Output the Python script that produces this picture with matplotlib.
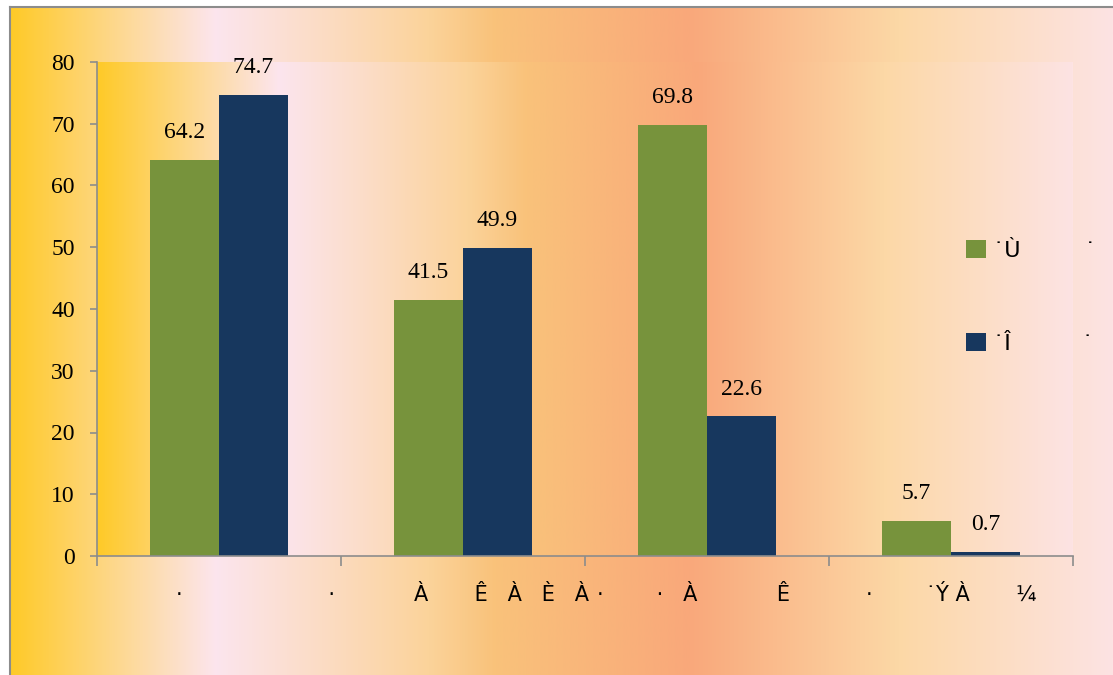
import numpy as np
import matplotlib
matplotlib.use("Agg")
from matplotlib import pyplot as plt
from matplotlib.colors import to_rgb

categories = ["·" + " " * 22 + "·",
              "À" + " " * 7 + "Ê   À   È   À",
              "·" + " " * 8 + "·   À" + " " * 12 + "Ê",
              "·" + " " * 8 + "˙Ý À" + " " * 7 + "¼"]
label_start = [-0.176, -0.20, -0.45, -0.35]   # left edge of each label, relative to its category
series1 = [64.2, 41.5, 69.8, 5.7]
series2 = [74.7, 49.9, 22.6, 0.7]
legend_names = ["˙Ù" + " " * 9 + "˙", "˙Î" + " " * 10 + "˙"]

green = "#77933C"
navy = "#17375E"

# gradient used behind the chart and again behind the plot area
stops = [0.0, 0.186, 0.38, 0.44, 0.617, 0.807, 1.0]
stop_cols = ["#FFCA28", "#FCE5EE", "#FBD39A", "#F9C27A", "#F9A87B", "#FCD8A6", "#FDE3E3"]
def gradient(n=400):
    t = np.linspace(0, 1, n)
    rgb = np.array([to_rgb(c) for c in stop_cols])
    img = np.stack([np.interp(t, stops, rgb[:, k]) for k in range(3)], axis=-1)
    return img[np.newaxis, :, :]

W, H = 1113, 675
fig = plt.figure(figsize=(W / 100, H / 100), dpi=100)
fig.patch.set_facecolor("white")

bg = fig.add_axes([10 / W, 0, 1 - 10 / W, 1 - 7 / H])
bg.imshow(gradient(), aspect="auto", extent=[0, 1, 0, 1])
bg.set_xlim(0, 1)
bg.set_ylim(0, 1)
bg.set_xticks([])
bg.set_yticks([])
for s in ["top", "left"]:
    bg.spines[s].set_color("#8c8c8c")
    bg.spines[s].set_linewidth(1.5)
for s in ["bottom", "right"]:
    bg.spines[s].set_visible(False)

ax = fig.add_axes([97 / W, 1 - 556 / H, (1073 - 97) / W, (556 - 62) / H])
ax.imshow(gradient(), aspect="auto", extent=[0, 1, 0, 1], transform=ax.transAxes, zorder=0)

x = np.arange(len(series1))
w = 0.283
b1 = ax.bar(x - w / 2, series1, w, color=green, zorder=2, label=legend_names[0])
b2 = ax.bar(x + w / 2, series2, w, color=navy, zorder=2, label=legend_names[1])

serif = "Liberation Serif"
for bars, vals in [(b1, series1), (b2, series2)]:
    for r, v in zip(bars, vals):
        ax.annotate(f"{v}", (r.get_x() + r.get_width() / 2, v), xytext=(0, 12),
                    textcoords="offset points", ha="center", va="bottom",
                    fontsize=17, family=serif)

ax.set_xlim(-0.5, 3.5)
ax.set_ylim(0, 80)
ax.set_yticks(range(0, 81, 10))
ax.set_yticklabels([str(v) for v in range(0, 81, 10)], family=serif, fontsize=17)
ax.tick_params(axis="y", length=5, width=1.2, color="#8c8c8c", pad=11)

ax.set_xticks(np.arange(-0.5, 4, 1))
ax.set_xticklabels([])
ax.tick_params(axis="x", which="major", length=7, width=1.2, color="#8c8c8c")
ax.set_xticks(x + np.array(label_start), minor=True)
ax.set_xticklabels(categories, minor=True, fontsize=15, family="DejaVu Sans", ha="left")
ax.tick_params(axis="x", which="minor", length=0, pad=21)

for s in ["top", "right"]:
    ax.spines[s].set_visible(False)
for s in ["left", "bottom"]:
    ax.spines[s].set_color("#8c8c8c")
    ax.spines[s].set_linewidth(1.2)
ax.set_zorder(1)

leg = fig.legend(loc="upper left", bbox_to_anchor=(966 / W, 1 - 240 / H), frameon=False,
                 handlelength=0.9, handleheight=0.9, handletextpad=0.3, labelspacing=3.24,
                 borderpad=0, borderaxespad=0, prop={"family": "DejaVu Sans", "size": 16})

fig.savefig("out.png", dpi=100)
